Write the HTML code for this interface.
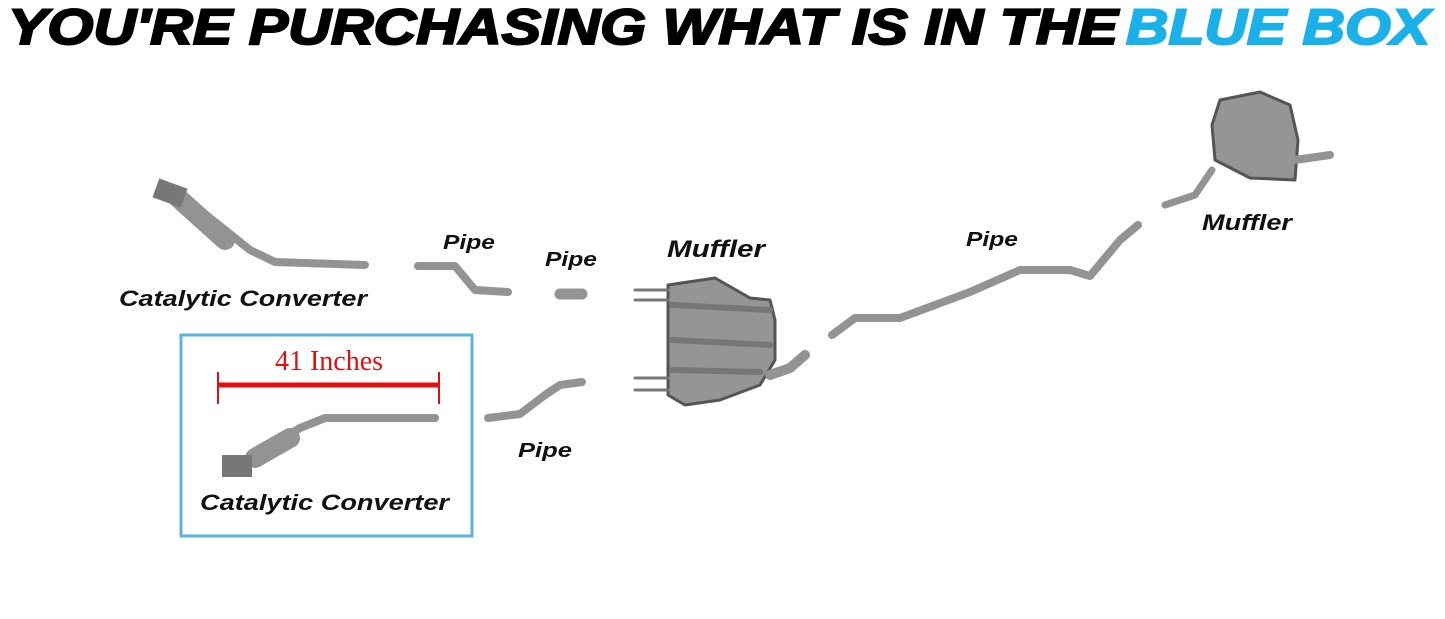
<!DOCTYPE html>
<html><head><meta charset="utf-8"><style>
html,body{margin:0;padding:0;background:#fff;width:1445px;height:619px;overflow:hidden}
svg{display:block}
.lbl{font-family:"Liberation Sans",sans-serif;font-weight:bold;font-style:italic;fill:#111}
</style></head><body>
<svg width="1445" height="619" viewBox="0 0 1445 619" xmlns="http://www.w3.org/2000/svg">
<text x="8" y="44" font-family="Liberation Sans,sans-serif" font-weight="900" font-style="italic" font-size="50" textLength="1110" lengthAdjust="spacingAndGlyphs" fill="#000" stroke="#000" stroke-width="2">YOU'RE PURCHASING WHAT IS IN THE</text>
<text x="1126" y="44" font-family="Liberation Sans,sans-serif" font-weight="900" font-style="italic" font-size="50" textLength="304" lengthAdjust="spacingAndGlyphs" fill="#1ab0ea" stroke="#1ab0ea" stroke-width="2">BLUE BOX</text>

<g fill="none" stroke-linecap="round" stroke-linejoin="round">
<g stroke="#939393">
<path d="M200 210 L250 250 L275 262 L365 265" stroke-width="8"/>
<path d="M175 195 L225 240" stroke-width="20"/>
</g>
<rect x="155" y="183" width="30" height="20" fill="#777" transform="rotate(20 170 193)"/>
<path d="M418 266 L455 266 L475 290 L508 292" stroke="#939393" stroke-width="8"/>
<path d="M560 294 L582 294" stroke="#939393" stroke-width="11"/>
<path d="M488 418 L520 414 L545 395 L560 385 L582 382" stroke="#939393" stroke-width="8"/>
<path d="M668 285 L715 278 L750 298 L770 300 L775 320 L775 360 L760 385 L720 400 L685 405 L668 395 Z" fill="#959595" stroke="#555" stroke-width="3"/>
<path d="M672 305 L770 310 M672 340 L770 345 M672 370 L760 372" stroke="#767676" stroke-width="6"/>
<path d="M635 290 L668 290 M635 300 L668 300 M635 378 L668 378 M635 390 L668 390" stroke="#777" stroke-width="3"/>
<path d="M770 375 L790 368 L805 355" stroke="#939393" stroke-width="10"/>
<path d="M832 335 L855 318 L900 318 L970 292 L1020 270 L1070 270 L1090 276 L1120 240 L1138 225" stroke="#939393" stroke-width="8"/>
<path d="M1220 100 L1260 92 L1290 105 L1298 140 L1295 180 L1250 178 L1215 160 L1212 125 Z" fill="#959595" stroke="#555" stroke-width="3"/>
<path d="M1295 160 L1330 155" stroke="#939393" stroke-width="8"/>
<path d="M1165 205 L1195 195 L1212 170" stroke="#939393" stroke-width="7"/>
<g stroke="#939393">
<path d="M245 460 L300 428 L325 418 L435 418" stroke-width="8"/>
<path d="M255 458 L290 438" stroke-width="20"/>
</g>
<rect x="222" y="455" width="30" height="22" fill="#777"/>
</g>

<rect x="181" y="335" width="291" height="201" fill="none" stroke="#5ab4dd" stroke-width="3"/>
<line x1="218" y1="385" x2="439" y2="385" stroke="#e01010" stroke-width="5"/>
<line x1="218" y1="372" x2="218" y2="404" stroke="#e01010" stroke-width="2"/>
<line x1="439" y1="372" x2="439" y2="404" stroke="#e01010" stroke-width="2"/>
<text x="329" y="370" text-anchor="middle" font-family="Liberation Serif,serif" font-size="28" fill="#e01010">41 Inches</text>

<text class="lbl" x="119" y="306" font-size="22" textLength="248" lengthAdjust="spacingAndGlyphs">Catalytic Converter</text>
<text class="lbl" x="443" y="249" font-size="20" textLength="52" lengthAdjust="spacingAndGlyphs">Pipe</text>
<text class="lbl" x="545" y="266" font-size="20" textLength="52" lengthAdjust="spacingAndGlyphs">Pipe</text>
<text class="lbl" x="667" y="257" font-size="24" textLength="98" lengthAdjust="spacingAndGlyphs">Muffler</text>
<text class="lbl" x="966" y="246" font-size="20" textLength="52" lengthAdjust="spacingAndGlyphs">Pipe</text>
<text class="lbl" x="1202" y="230" font-size="22" textLength="90" lengthAdjust="spacingAndGlyphs">Muffler</text>
<text class="lbl" x="518" y="457" font-size="20" textLength="54" lengthAdjust="spacingAndGlyphs">Pipe</text>
<text class="lbl" x="200" y="510" font-size="22" textLength="249" lengthAdjust="spacingAndGlyphs">Catalytic Converter</text>
</svg>
</body></html>
